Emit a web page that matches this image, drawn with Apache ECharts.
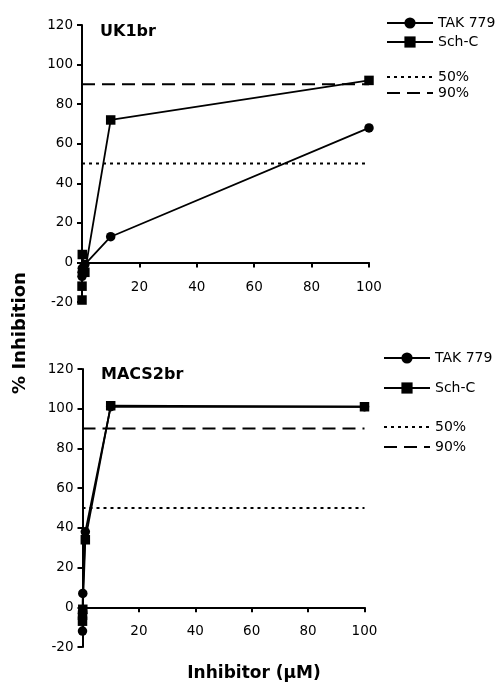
<!DOCTYPE html>
<html><head><meta charset="utf-8">
<script src="https://cdn.jsdelivr.net/npm/echarts@6/dist/echarts.min.js"></script>
<style>html,body{margin:0;padding:0;background:#fff}#c{width:499px;height:691px}</style>
</head><body><div id="c"></div>
<script>
// Data
const conc = [0.001, 0.01, 0.1, 1, 10, 100];           // inhibitor concentration (µM)
const ukTAK = [-7, -5, -3, -1, 13, 68];                // UK1br, TAK 779
const ukSch = [-19, -12, 4, -5, 72, 92];               // UK1br, Sch-C
const macsTAK = [-12, -3, 7, 38, 101, 101];            // MACS2br, TAK 779
const macsSch = [-7, -4, -1, 34, 101.5, 101];          // MACS2br, Sch-C
const refX = [0, 100];
const ref50 = [50, 50];
const ref90 = [90, 90];
const panelTitles = ['UK1br', 'MACS2br'];
const xTicks = [0, 20, 40, 60, 80, 100];
const yTicks = [-20, 0, 20, 40, 60, 80, 100, 120];

const FONT = 'DejaVu Sans';
const pair = (xs, ys) => xs.map((x, i) => [x, ys[i]]);
const grids = [
  { left: 82, top: 25, width: 287, height: 277 },
  { left: 82.5, top: 369, width: 282, height: 278 }
];
const xLabelMargins = [18, 17];

function xAxisFor(gi) {
  const yMin = yTicks[0], yMax = yTicks[yTicks.length - 1];
  // place the x axis at y = 0 (shift up from the grid bottom)
  const shift = grids[gi].height * (0 - yMin) / (yMax - yMin);
  return {
    type: 'value', gridIndex: gi, min: xTicks[0], max: xTicks[xTicks.length - 1], interval: 20,
    offset: -shift,
    axisLine: { onZero: false, lineStyle: { color: '#000', width: 2 } },
    axisTick: { inside: false, length: 5, lineStyle: { color: '#000', width: 2 } },
    axisLabel: { margin: xLabelMargins[gi], fontFamily: FONT, fontSize: 13.5, color: '#000',
      formatter: v => v === 0 ? '' : String(v) },
    splitLine: { show: false }
  };
}
function yAxisFor(gi) {
  return {
    type: 'value', gridIndex: gi, min: yTicks[0], max: yTicks[yTicks.length - 1], interval: 20,
    axisLine: { show: true, onZero: false, lineStyle: { color: '#000', width: 2 } },
    axisTick: { show: true, length: 5, lineStyle: { color: '#000', width: 2 } },
    axisLabel: { margin: 9, fontFamily: FONT, fontSize: 13.5, color: '#000' },
    splitLine: { show: false }
  };
}
function dataSeries(name, gi, ys, symbol) {
  return {
    name, type: 'line', xAxisIndex: gi, yAxisIndex: gi,
    data: pair(conc, ys), symbol, symbolSize: 9.5, showSymbol: true,
    lineStyle: { color: '#000', width: 1.8 }, itemStyle: { color: '#000' },
    z: 5, animation: false
  };
}
function refSeries(name, gi, ys, type, width) {
  return {
    name, type: 'line', xAxisIndex: gi, yAxisIndex: gi,
    data: pair(refX, ys), symbol: 'none',
    lineStyle: { color: '#000', width, type }, itemStyle: { color: '#000' },
    z: 2, animation: false
  };
}
const legendText = { fontFamily: FONT, fontSize: 14, color: '#000' };
const refLegendItems = [
  { name: '50%', itemStyle: { opacity: 0 } },
  { name: '90%', itemStyle: { opacity: 0 } }
];

const option = {
  backgroundColor: '#fff',
  animation: false,
  grid: grids,
  xAxis: [xAxisFor(0), xAxisFor(1)],
  yAxis: [yAxisFor(0), yAxisFor(1)],
  legend: [
    { data: ['TAK 779', 'Sch-C'], orient: 'vertical', left: 386, top: 16, padding: 0,
      itemWidth: 46, itemHeight: 14, itemGap: 5, textStyle: legendText },
    { data: refLegendItems, orient: 'vertical', left: 386, top: 70, padding: 0,
      itemWidth: 46, itemHeight: 14, itemGap: 2, textStyle: legendText },
    { data: ['TAK 779', 'Sch-C'], orient: 'vertical', left: 383, top: 351, padding: 0,
      itemWidth: 46, itemHeight: 14, itemGap: 16, textStyle: legendText },
    { data: refLegendItems, orient: 'vertical', left: 383, top: 420, padding: 0,
      itemWidth: 46, itemHeight: 14, itemGap: 6, textStyle: legendText }
  ],
  graphic: [
    { type: 'text', left: 100, top: 24, style: { text: panelTitles[0], font: 'bold 16px "DejaVu Sans"', fill: '#000' } },
    { type: 'text', left: 101, top: 367, style: { text: panelTitles[1], font: 'bold 16px "DejaVu Sans"', fill: '#000' } },
    { type: 'text', x: 20, y: 333, rotation: Math.PI / 2,
      style: { text: '% Inhibition', font: 'bold 18px "DejaVu Sans"', fill: '#000', align: 'center', verticalAlign: 'middle' } },
    { type: 'text', x: 254, y: 674,
      style: { text: 'Inhibitor (\u00b5M)', font: 'bold 17px "DejaVu Sans"', fill: '#000', align: 'center', verticalAlign: 'middle' } }
  ],
  series: [
    refSeries('50%', 0, ref50, [3, 4], 2),
    refSeries('90%', 0, ref90, [13, 7], 2),
    dataSeries('TAK 779', 0, ukTAK, 'circle'),
    dataSeries('Sch-C', 0, ukSch, 'rect'),
    refSeries('50%', 1, ref50, [3, 4], 2),
    refSeries('90%', 1, ref90, [13, 7], 2),
    dataSeries('TAK 779', 1, macsTAK, 'circle'),
    dataSeries('Sch-C', 1, macsSch, 'rect')
  ]
};
const chart = echarts.init(document.getElementById('c'), null, { renderer: 'canvas' });
chart.setOption(option);
</script></body></html>
